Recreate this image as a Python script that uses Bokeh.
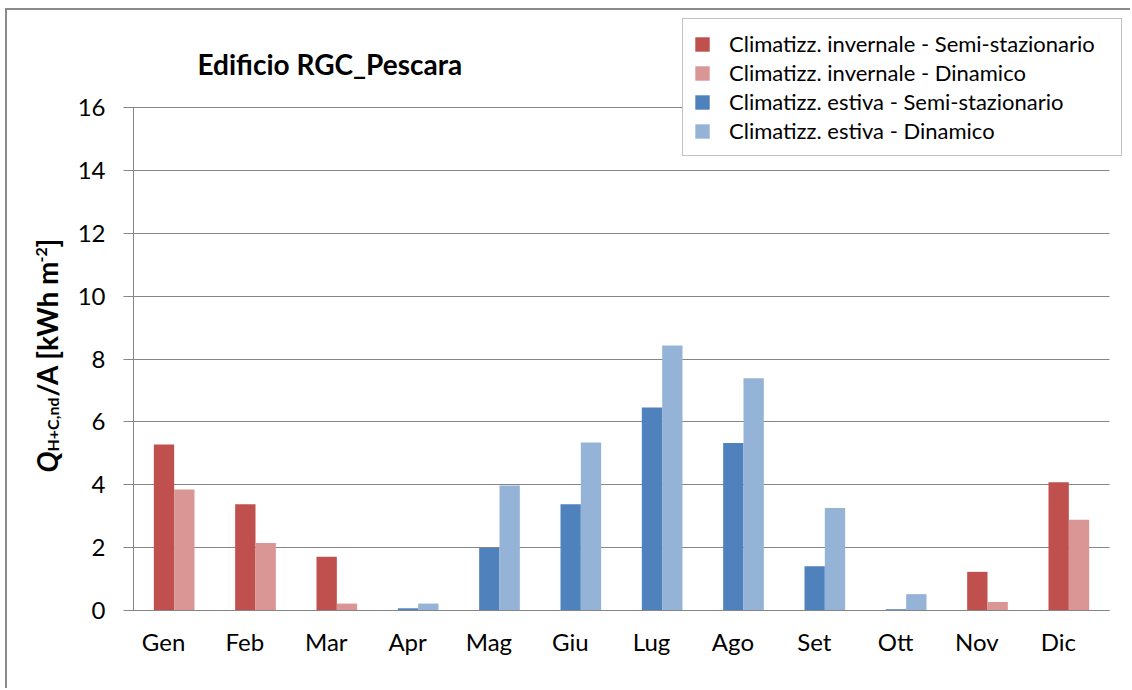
import math
from bokeh.plotting import figure
from bokeh.models import (Legend, LegendItem, Label, ColumnDataSource, FixedTicker,
                          LinearAxis, Range1d)
from bokeh.transform import dodge
from bokeh.embed import file_html
from bokeh.resources import INLINE

months = ["Gen", "Feb", "Mar", "Apr", "Mag", "Giu", "Lug", "Ago", "Set", "Ott", "Nov", "Dic"]
inv_semi = [5.28, 3.38, 1.71, 0, 0, 0, 0, 0, 0, 0, 1.23, 4.08]
inv_dyn = [3.85, 2.15, 0.22, 0, 0, 0, 0, 0, 0, 0, 0.27, 2.89]
est_semi = [0, 0, 0, 0.07, 1.99, 3.38, 6.46, 5.33, 1.41, 0.04, 0, 0]
est_dyn = [0, 0, 0, 0.22, 3.98, 5.34, 8.43, 7.39, 3.26, 0.52, 0, 0]
y_ticks = [0, 2, 4, 6, 8, 10, 12, 14, 16]

series_names = [
    "Climatizz. invernale - Semi-stazionario",
    "Climatizz. invernale - Dinamico",
    "Climatizz. estiva - Semi-stazionario",
    "Climatizz. estiva - Dinamico",
]
colors = ["#C0504D", "#D99694", "#4F81BD", "#95B3D7"]

FONT = "Lato"
GRID = "#868686"

# canvas geometry (pixels inside the figure)
W, H = 1125, 680
PLOT_L, PLOT_R = 126, 1102     # left axis / right end of plot area
Y0_PX, YTOP_PX = 600, 97       # pixel rows (from top) of y=0 and y=16
Y_MAX = 16
LABEL_SHIFT = -0.13            # month labels sit slightly left of bar groups

n = len(months)
idx = list(range(n))
ppx = (PLOT_R - PLOT_L) / n
ppy = (Y0_PX - YTOP_PX) / Y_MAX
x_range = Range1d(-0.5 - PLOT_L / ppx, n - 0.5 + (W - PLOT_R) / ppx)
y_range = Range1d(-(H - Y0_PX) / ppy, Y_MAX + YTOP_PX / ppy)

src = ColumnDataSource(dict(idx=idx, month=months, inv_semi=inv_semi, inv_dyn=inv_dyn,
                            est_semi=est_semi, est_dyn=est_dyn))

p = figure(x_range=x_range, y_range=y_range, width=W, height=H,
           output_backend="svg", toolbar_location=None,
           x_axis_location=None, y_axis_location=None, min_border=0)
p.styles = {"margin-left": "5px", "margin-top": "8px",
            "border-left": "2px solid #8a8a8a", "border-top": "2px solid #8a8a8a"}
p.background_fill_color = "white"
p.border_fill_color = "white"
p.outline_line_color = None
p.grid.visible = False

cols = ["inv_semi", "inv_dyn", "est_semi", "est_dyn"]
offsets = [-0.125, 0.125, -0.125, 0.125]
renderers = []
for c, off, col in zip(cols, offsets, colors):
    r = p.vbar(x=dodge("idx", off), top=c, width=0.25, source=src,
               fill_color=col, line_color=None)
    renderers.append(r)

# y axis (its long inward ticks act as the horizontal gridlines)
yax = LinearAxis(ticker=FixedTicker(ticks=y_ticks), fixed_location=-0.5, bounds=(0, Y_MAX),
                 level="underlay")
yax.axis_line_color = GRID
yax.major_tick_line_color = GRID
yax.major_tick_out = 10
yax.major_tick_in = PLOT_R - PLOT_L
yax.minor_tick_line_color = None
yax.major_label_text_font = FONT
yax.major_label_text_font_size = "24px"
yax.major_label_text_color = "black"
yax.major_label_standoff = 18
p.add_layout(yax, "left")

# x axis line at y=0
xline = LinearAxis(ticker=FixedTicker(ticks=[]), fixed_location=0, bounds=(-0.5, n - 0.5))
xline.axis_line_color = GRID
xline.major_tick_line_color = None
xline.minor_tick_line_color = None
p.add_layout(xline, "below")

# month labels
label_ticks = [i + LABEL_SHIFT for i in idx]
xax = LinearAxis(ticker=FixedTicker(ticks=label_ticks), fixed_location=0,
                 major_label_overrides={t: m for t, m in zip(label_ticks, months)})
xax.axis_line_color = None
xax.major_tick_line_color = None
xax.minor_tick_line_color = None
xax.major_label_text_font = FONT
xax.major_label_text_font_size = "24px"
xax.major_label_text_color = "black"
xax.major_label_standoff = 10
p.add_layout(xax, "below")

legend = Legend(items=[LegendItem(label=nm, renderers=[r]) for nm, r in zip(series_names, renderers)],
                location=(675, 534), orientation="vertical")
legend.label_text_font = FONT
legend.label_text_font_size = "22px"
legend.label_text_color = "black"
legend.glyph_width = 18
legend.glyph_height = 18
legend.label_height = 29
legend.label_width = 382
legend.label_standoff = 18
legend.spacing = 0
legend.padding = 10
legend.margin = 0
legend.border_line_color = GRID
legend.border_line_width = 1
legend.background_fill_color = "white"
legend.background_fill_alpha = 1
p.add_layout(legend, "center")

# title
p.add_layout(Label(x=190, y=627, x_units="screen", y_units="screen", text="Edificio RGC_Pescara",
                   text_font=FONT, text_font_size="28px", text_font_style="bold",
                   text_color="black", text_align="left", text_baseline="middle"))

# y axis label composed of pieces (rotated, reading bottom to top)
ang = math.pi / 2
pieces = [
    ("Q", 39, 218, "28px", "bold italic"),
    ("H+C,nd", 45, 239, "16px", "bold"),
    ("/A [kWh m", 39, 294, "28px", "bold"),
    ("-2", 34, 428, "16px", "bold"),
    ("]", 39, 443, "28px", "bold"),
]
for t, x, y, fs, st in pieces:
    p.add_layout(Label(x=x, y=y, x_units="screen", y_units="screen", text=t, angle=ang,
                       text_font=FONT, text_font_size=fs, text_font_style=st,
                       text_color="black", text_align="left", text_baseline="middle"))

open("out.html", "w").write(file_html(p, INLINE))
